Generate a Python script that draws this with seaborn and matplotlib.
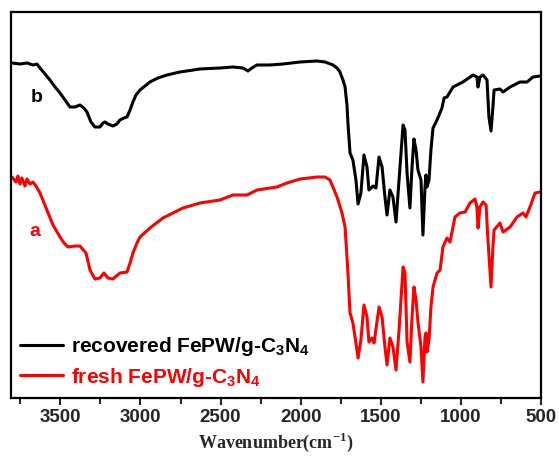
import matplotlib
matplotlib.use("Agg")
import matplotlib.pyplot as plt
import seaborn as sns
import pandas as pd

# FTIR spectra (wavenumber in cm^-1, transmittance in arbitrary offset units)
recovered_wn = [3802, 3752, 3708, 3671, 3646, 3627, 3596, 3565, 3533, 3502, 3471, 3440,
                3409, 3378, 3353, 3334, 3309, 3284, 3253, 3234, 3222, 3203, 3172, 3147,
                3128, 3103, 3084, 3065, 3047, 3028, 3003, 2972, 2941, 2891, 2835, 2753,
                2629, 2504, 2423, 2360, 2329, 2304, 2273, 2192, 2110, 2004, 1898, 1848,
                1798, 1773, 1755, 1736, 1723, 1711, 1705, 1692, 1674, 1655, 1642, 1624,
                1605, 1586, 1574, 1561, 1549, 1530, 1511, 1492, 1474, 1461, 1443, 1424,
                1405, 1386, 1361, 1349, 1336, 1318, 1305, 1293, 1280, 1268, 1249, 1237,
                1224, 1218, 1212, 1199, 1187, 1174, 1149, 1118, 1105, 1087, 1049, 987,
                924, 900, 893, 881, 862, 837, 825, 812, 800, 793, 756, 737, 693, 631,
                587, 550, 506]
recovered_t = [335, 334, 335, 333, 334, 330, 324, 318, 311, 305, 298, 291,
               291, 293, 290, 286, 276, 271, 271, 275, 276, 274, 272, 274,
               278, 280, 281, 288, 296, 303, 308, 312, 316, 320, 323, 326,
               329, 330, 331, 330, 327, 330, 333, 333, 334, 336, 337, 336,
               333, 330, 326, 318, 311, 293, 275, 245, 238, 218, 194, 205,
               243, 231, 208, 210, 212, 210, 241, 231, 201, 183, 208, 201,
               176, 218, 273, 268, 225, 190, 231, 259, 248, 228, 218, 163,
               211, 223, 211, 218, 248, 270, 278, 290, 300, 301, 311, 316,
               323, 321, 311, 321, 323, 318, 281, 267, 291, 308, 309, 306, 311, 316,
               316, 321, 322]

fresh_wn = [3802, 3777, 3765, 3752, 3740, 3721, 3708, 3690, 3671, 3652, 3627, 3609,
            3584, 3546, 3502, 3477, 3452, 3409, 3378, 3340, 3315, 3284, 3253, 3228,
            3203, 3172, 3128, 3084, 3065, 3047, 3022, 3003, 2941, 2860, 2735, 2629,
            2504, 2423, 2335, 2273, 2148, 2086, 2004, 1898, 1848, 1817, 1773, 1742,
            1723, 1705, 1692, 1674, 1655, 1642, 1624, 1605, 1586, 1574, 1555, 1542,
            1511, 1492, 1474, 1461, 1443, 1424, 1405, 1386, 1361, 1349, 1336, 1318,
            1305, 1293, 1280, 1268, 1249, 1237, 1224, 1218, 1212, 1199, 1187, 1174,
            1149, 1130, 1112, 1087, 1068, 1037, 1006, 974, 943, 912, 900, 893, 881,
            862, 843, 831, 812, 800, 793, 756, 737, 693, 650, 612, 594, 569, 537, 506]
fresh_t = [221, 216, 222, 214, 220, 212, 219, 214, 216, 212, 205, 198,
           188, 173, 161, 155, 151, 152, 152, 145, 128, 119, 120, 125,
           120, 119, 125, 126, 135, 145, 155, 161, 170, 180, 190, 195,
           198, 203, 203, 208, 211, 215, 219, 221, 221, 218, 201, 185,
           171, 125, 85, 75, 55, 40, 58, 93, 81, 56, 60, 55,
           91, 81, 51, 33, 60, 51, 28, 68, 131, 125, 56, 36,
           81, 111, 98, 76, 51, 16, 61, 65, 46, 58, 91, 111,
           125, 128, 151, 160, 156, 181, 185, 186, 195, 199, 191, 170, 191,
           196, 193, 158, 111, 151, 168, 175, 166, 171, 181, 185, 181, 191, 205, 206]

series_names = ["recovered FePW/g-C$_3$N$_4$", "fresh FePW/g-C$_3$N$_4$"]
series_colors = ["#000000", "#ff0000"]
tick_values = [3500, 3000, 2500, 2000, 1500, 1000, 500]

sns.set_theme(style="ticks")
plt.rcParams["font.family"] = ["Liberation Sans", "DejaVu Sans"]
plt.rcParams["font.weight"] = "bold"
plt.rcParams["mathtext.fontset"] = "custom"
plt.rcParams["mathtext.bf"] = "Liberation Sans:bold"
plt.rcParams["mathtext.rm"] = "Liberation Serif:bold"
plt.rcParams["mathtext.default"] = "bf"

fig = plt.figure(figsize=(5.59, 4.59), dpi=100)
ax = fig.add_axes([11 / 559, 61 / 459, 530 / 559, 386 / 459])

df_rec = pd.DataFrame({"wn": recovered_wn, "t": recovered_t})
df_fre = pd.DataFrame({"wn": fresh_wn, "t": fresh_t})
line_kw = dict(linewidth=2.2, solid_joinstyle="round", solid_capstyle="round", sort=False)
sns.lineplot(data=df_rec, x="wn", y="t", color=series_colors[0],
             label=series_names[0], ax=ax, **line_kw)
sns.lineplot(data=df_fre, x="wn", y="t", color=series_colors[1],
             label=series_names[1], ax=ax, **line_kw)

ax.set_xlim(3808, 500)
ax.set_ylim(0, 386)
ax.set_yticks([])
ax.set_ylabel("")
ax.set_xticks(tick_values)
ax.set_xticks([3750, 3250, 2750, 2250, 1750, 1250, 750], minor=True)
ax.set_xticklabels([str(v) for v in tick_values], fontsize=13.5, fontweight="bold")
ax.tick_params(axis="x", which="major", direction="out", length=5, width=1.5, pad=3)
ax.tick_params(axis="x", which="minor", direction="out", length=4, width=1.5)
for sp in ax.spines.values():
    sp.set_visible(True)
    sp.set_linewidth(1.6)
    sp.set_color("black")

ax.set_xlabel("Wavenumber(cm$^{\\mathrm{-1}}$)", fontsize=13, fontweight="bold",
              fontfamily="Liberation Serif", labelpad=3)

ax.text(3646, 301, "b", color="black", fontsize=14, fontweight="bold",
        ha="center", va="center")
ax.text(3658, 167, "a", color="red", fontsize=14, fontweight="bold",
        ha="center", va="center")

leg = ax.legend(loc="lower left", frameon=False, fontsize=15, handlelength=2.07,
                handletextpad=0.34, borderaxespad=0.05, labelspacing=0.35)
for text, col in zip(leg.get_texts(), series_colors):
    text.set_color(col)
for line in leg.get_lines():
    line.set_linewidth(2.2)

fig.savefig("out.png", dpi=100)
